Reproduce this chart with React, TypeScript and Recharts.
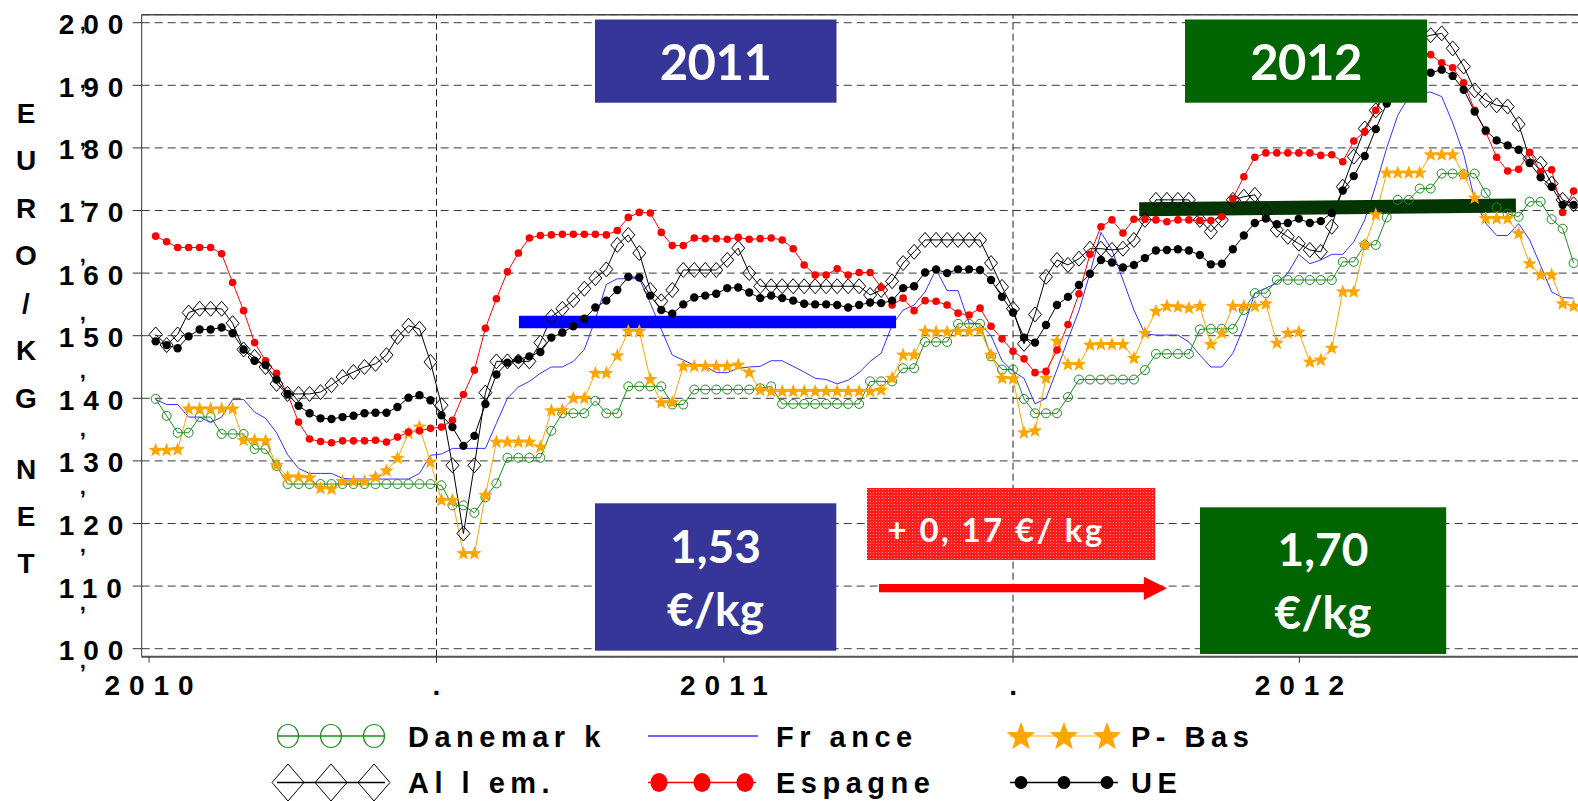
import React from "react";
import { CartesianGrid, Line, LineChart, ReferenceLine, XAxis, YAxis } from "recharts";

// weekly prices, EUR/kg, first week of 2010 onwards
const danemark = [
  1.399, 1.372, 1.345, 1.345, 1.37, 1.37, 1.343, 1.343, 1.343, 1.319,
  1.319, 1.292, 1.263, 1.263, 1.263, 1.263, 1.263, 1.263, 1.263, 1.263,
  1.263, 1.263, 1.263, 1.263, 1.263, 1.263, 1.261, 1.229, 1.229, 1.217,
  1.242, 1.264, 1.305, 1.305, 1.305, 1.305, 1.348, 1.376, 1.376, 1.376,
  1.396, 1.376, 1.376, 1.419, 1.419, 1.419, 1.419, 1.39, 1.39, 1.414,
  1.414, 1.414, 1.414, 1.414, 1.414, 1.416, 1.419, 1.391, 1.391, 1.391,
  1.391, 1.391, 1.391, 1.391, 1.391, 1.427, 1.427, 1.427, 1.448, 1.448,
  1.49, 1.49, 1.49, 1.519, 1.519, 1.519, 1.467, 1.446, 1.446, 1.399,
  1.376, 1.376, 1.376, 1.402, 1.43, 1.43, 1.43, 1.43, 1.43, 1.43,
  1.445, 1.471, 1.471, 1.471, 1.471, 1.51, 1.511, 1.511, 1.511, 1.541,
  1.568, 1.568, 1.589, 1.589, 1.589, 1.589, 1.589, 1.589, 1.618, 1.618,
  1.645, 1.645, 1.689, 1.717, 1.717, 1.735, 1.735, 1.759, 1.759, 1.758,
  1.759, 1.728, 1.705, 1.695, 1.69, 1.714, 1.714, 1.686, 1.671, 1.616,
];

const france = [
  1.398, 1.39, 1.39, 1.37, 1.37, 1.361, 1.37, 1.398, 1.398, 1.378,
  1.368, 1.345, 1.31, 1.288, 1.28, 1.28, 1.28, 1.272, 1.271, 1.271,
  1.271, 1.271, 1.271, 1.271, 1.28, 1.309, 1.311, 1.32, 1.32, 1.32,
  1.32, 1.36, 1.4, 1.418, 1.427, 1.44, 1.45, 1.45, 1.459, 1.478,
  1.526, 1.582, 1.591, 1.591, 1.591, 1.552, 1.51, 1.469, 1.461, 1.453,
  1.451, 1.441, 1.441, 1.448, 1.45, 1.451, 1.46, 1.46, 1.451, 1.442,
  1.432, 1.43, 1.423, 1.429, 1.441, 1.459, 1.472, 1.517, 1.541, 1.549,
  1.57, 1.606, 1.572, 1.572, 1.52, 1.519, 1.5, 1.46, 1.443, 1.432,
  1.391, 1.4, 1.446, 1.494, 1.54, 1.6, 1.665, 1.637, 1.589, 1.541,
  1.503, 1.501, 1.501, 1.501, 1.49, 1.469, 1.45, 1.45, 1.472, 1.514,
  1.568, 1.576, 1.584, 1.6, 1.63, 1.615, 1.621, 1.63, 1.63, 1.65,
  1.685, 1.74, 1.8, 1.852, 1.881, 1.889, 1.889, 1.882, 1.84, 1.79,
  1.717, 1.68, 1.66, 1.66, 1.679, 1.653, 1.612, 1.57, 1.561, 1.56,
];

const pBas = [
  1.317, 1.317, 1.318, 1.383, 1.383, 1.383, 1.383, 1.383, 1.333, 1.333,
  1.332, 1.293, 1.274, 1.274, 1.273, 1.256, 1.255, 1.267, 1.267, 1.267,
  1.274, 1.284, 1.304, 1.344, 1.354, 1.298, 1.237, 1.237, 1.152, 1.152,
  1.245, 1.33, 1.33, 1.33, 1.33, 1.322, 1.38, 1.381, 1.4, 1.4,
  1.44, 1.44, 1.468, 1.507, 1.507, 1.43, 1.393, 1.393, 1.451, 1.451,
  1.451, 1.451, 1.451, 1.453, 1.441, 1.413, 1.411, 1.411, 1.411, 1.411,
  1.411, 1.411, 1.411, 1.411, 1.411, 1.411, 1.413, 1.432, 1.469, 1.469,
  1.507, 1.506, 1.506, 1.507, 1.507, 1.509, 1.469, 1.432, 1.431, 1.345,
  1.348, 1.432, 1.491, 1.454, 1.454, 1.485, 1.486, 1.486, 1.486, 1.464,
  1.504, 1.539, 1.547, 1.546, 1.544, 1.547, 1.486, 1.504, 1.547, 1.547,
  1.547, 1.551, 1.488, 1.504, 1.506, 1.458, 1.461, 1.48, 1.57, 1.57,
  1.645, 1.693, 1.76, 1.76, 1.76, 1.76, 1.789, 1.789, 1.789, 1.757,
  1.72, 1.687, 1.687, 1.687, 1.663, 1.615, 1.597, 1.597, 1.551, 1.547,
];

const allem = [
  1.502, 1.485, 1.502, 1.537, 1.543, 1.543, 1.543, 1.52, 1.478, 1.466,
  1.45, 1.423, 1.407, 1.407, 1.407, 1.41, 1.421, 1.434, 1.442, 1.45,
  1.455, 1.469, 1.498, 1.516, 1.511, 1.458, 1.389, 1.293, 1.184, 1.293,
  1.409, 1.459, 1.459, 1.459, 1.459, 1.489, 1.53, 1.543, 1.557, 1.575,
  1.592, 1.606, 1.645, 1.661, 1.632, 1.573, 1.555, 1.573, 1.605, 1.605,
  1.605, 1.605, 1.621, 1.64, 1.6, 1.579, 1.579, 1.579, 1.579, 1.579,
  1.579, 1.579, 1.579, 1.579, 1.579, 1.565, 1.573, 1.587, 1.616, 1.634,
  1.653, 1.653, 1.653, 1.653, 1.653, 1.653, 1.616, 1.578, 1.543, 1.487,
  1.534, 1.594, 1.621, 1.613, 1.623, 1.639, 1.639, 1.637, 1.639, 1.653,
  1.685, 1.717, 1.717, 1.717, 1.717, 1.685, 1.666, 1.685, 1.717, 1.722,
  1.725, 1.698, 1.669, 1.658, 1.647, 1.637, 1.634, 1.674, 1.738, 1.786,
  1.831, 1.86, 1.9, 1.93, 1.96, 1.975, 1.98, 1.983, 1.959, 1.93,
  1.892, 1.876, 1.868, 1.866, 1.838, 1.783, 1.775, 1.743, 1.717, 1.71,
];

const espagne = [
  1.659, 1.65, 1.641, 1.641, 1.641, 1.641, 1.631, 1.585, 1.54, 1.489,
  1.46, 1.44, 1.407, 1.362, 1.335, 1.331, 1.329, 1.332, 1.332, 1.332,
  1.333, 1.33, 1.338, 1.346, 1.348, 1.352, 1.354, 1.365, 1.406, 1.445,
  1.512, 1.559, 1.602, 1.632, 1.656, 1.66, 1.661, 1.662, 1.662, 1.662,
  1.662, 1.661, 1.668, 1.689, 1.697, 1.696, 1.665, 1.644, 1.644, 1.656,
  1.655, 1.655, 1.654, 1.657, 1.654, 1.655, 1.656, 1.653, 1.639, 1.613,
  1.597, 1.597, 1.607, 1.597, 1.601, 1.601, 1.577, 1.549, 1.56, 1.54,
  1.556, 1.555, 1.549, 1.536, 1.533, 1.544, 1.515, 1.495, 1.475, 1.463,
  1.441, 1.443, 1.477, 1.518, 1.567, 1.63, 1.674, 1.685, 1.664, 1.686,
  1.686, 1.685, 1.682, 1.685, 1.685, 1.684, 1.684, 1.69, 1.719, 1.754,
  1.785, 1.792, 1.792, 1.792, 1.792, 1.792, 1.788, 1.789, 1.778, 1.811,
  1.826, 1.86, 1.889, 1.915, 1.94, 1.955, 1.949, 1.936, 1.928, 1.904,
  1.86, 1.826, 1.785, 1.763, 1.766, 1.793, 1.762, 1.765, 1.697, 1.731,
];

const ue = [
  1.491, 1.485, 1.48, 1.499, 1.51, 1.51, 1.513, 1.504, 1.478, 1.46,
  1.453, 1.43, 1.407, 1.388, 1.376, 1.368, 1.367, 1.37, 1.372, 1.376,
  1.377, 1.377, 1.386, 1.401, 1.405, 1.397, 1.373, 1.354, 1.324, 1.34,
  1.391, 1.438, 1.457, 1.462, 1.467, 1.474, 1.497, 1.505, 1.515, 1.527,
  1.545, 1.556, 1.573, 1.594, 1.593, 1.564, 1.541, 1.535, 1.55, 1.561,
  1.564, 1.567, 1.576, 1.577, 1.569, 1.56, 1.564, 1.56, 1.556, 1.551,
  1.55, 1.55, 1.549, 1.545, 1.549, 1.553, 1.552, 1.556, 1.576, 1.579,
  1.601, 1.606, 1.6, 1.606, 1.606, 1.605, 1.589, 1.562, 1.537, 1.497,
  1.489, 1.517, 1.549, 1.562, 1.581, 1.599, 1.621, 1.617, 1.609, 1.613,
  1.624, 1.636, 1.637, 1.638, 1.636, 1.629, 1.614, 1.615, 1.638, 1.66,
  1.68, 1.687, 1.678, 1.68, 1.687, 1.68, 1.683, 1.696, 1.732, 1.755,
  1.787, 1.83, 1.871, 1.895, 1.91, 1.918, 1.92, 1.925, 1.915, 1.893,
  1.858, 1.828, 1.812, 1.804, 1.797, 1.776, 1.753, 1.738, 1.709, 1.709,
];

// x axis: week index, ticks at 1 Jan / 1 Jul
const xTickWeeks = [-0.6, 25.55, 51.7, 78.0, 104.05];
const xTickLabels = ["2010", ".", "2011", ".", "2012"];
const midYearWeeks = [25.55, 78.0];
const yTicks = [1.0, 1.1, 1.2, 1.3, 1.4, 1.5, 1.6, 1.7, 1.8, 1.9, 2.0];

// yearly averages drawn as thick bars
const avg2011 = [{ x: 33.05, y: 1.522 }, { x: 67.36, y: 1.522 }];
const avg2012 = [{ x: 89.48, y: 1.702 }, { x: 123.75, y: 1.708 }];

const X_DOMAIN: [number, number] = [-1.27, 129.4];
const Y_DOMAIN: [number, number] = [0.9872, 2.0128];

const AXIS_FONT = "'Liberation Sans', Arial, sans-serif";
const BOX_FONT = "Lato, 'Open Sans', sans-serif";

const rows = danemark.map((v, i) => ({
  week: i,
  danemark: v,
  france: france[i],
  pBas: pBas[i],
  allem: allem[i],
  espagne: espagne[i],
  ue: ue[i],
}));

function starPath(cx: number, cy: number, R: number) {
  const r = R * 0.42;
  let d = "";
  for (let k = 0; k < 10; k++) {
    const rad = k % 2 === 0 ? R : r;
    const a = -Math.PI / 2 + (k * Math.PI) / 5;
    d += `${k === 0 ? "M" : "L"}${cx + rad * Math.cos(a)},${cy + rad * Math.sin(a)}`;
  }
  return d + "Z";
}

const diamondPath = (cx: number, cy: number, w: number, h: number) =>
  `M${cx},${cy - h}L${cx + w},${cy}L${cx},${cy + h}L${cx - w},${cy}Z`;

const circleDot = (p: any) => (
  <circle key={`c${p.index}`} cx={p.cx} cy={p.cy} r={4.5} fill="none" stroke="#1e8c1e" strokeWidth={1} />
);
const starDot = (p: any) => (
  <path key={`s${p.index}`} d={starPath(p.cx, p.cy, 7.5)} fill="#ffa500" stroke="none" />
);
const diamondDot = (p: any) => (
  <path key={`d${p.index}`} d={diamondPath(p.cx, p.cy, 6.5, 7.5)} fill="none" stroke="#000" strokeWidth={1} />
);
const redDot = (p: any) => <circle key={`r${p.index}`} cx={p.cx} cy={p.cy} r={3.8} fill="#ff0000" />;
const blackDot = (p: any) => <circle key={`b${p.index}`} cx={p.cx} cy={p.cy} r={4.2} fill="#000" />;

function XTick(props: any) {
  const { x, y, payload } = props;
  const idx = xTickWeeks.indexOf(payload.value);
  return (
    <text
      x={x}
      y={y}
      dy={30}
      dx={4.5}
      textAnchor="middle"
      style={{ fontFamily: AXIS_FONT, fontWeight: 700, fontSize: 28, letterSpacing: 9 }}
      fill="#000"
    >
      {xTickLabels[idx]}
    </text>
  );
}

function YTick(props: any) {
  const { x, y, payload } = props;
  const v: number = payload.value;
  const label = v.toFixed(2).replace(".", "");
  const commaY = y + 9 - (2 - v) * 46;
  return (
    <g style={{ fontFamily: AXIS_FONT, fontWeight: 700 }}>
      <text x={x - 74} y={y + 11.5} textAnchor="start" fontSize={28} style={{ letterSpacing: 9 }} fill="#000">
        {label}
      </text>
      <text x={x - 50} y={commaY - 1.5} textAnchor="middle" fontSize={22} fill="#000">
        ,
      </text>
      {v === 1.0 && (
        <text x={x - 50} y={y + 19.5} textAnchor="middle" fontSize={22} fill="#000">
          ,
        </text>
      )}
    </g>
  );
}

const titleTop = ["E", "U", "R", "O", "/", "K", "G"];
const titleBottom = ["N", "E", "T"];

const legendItems = [
  { name: "Danemar k", kind: "circle", row: 0, col: 0 },
  { name: "Fr ance", kind: "line", row: 0, col: 1 },
  { name: "P- Bas", kind: "star", row: 0, col: 2 },
  { name: "Al l em.", kind: "diamond", row: 1, col: 0 },
  { name: "Espagne", kind: "red", row: 1, col: 1 },
  { name: "UE", kind: "black", row: 1, col: 2 },
];
const legendMarkerX = [277, 648, 1010];
const legendTextX = [408, 776, 1131];
const legendRowY = [736, 782.5];

function LegendMarker({ kind, x0, cy }: { kind: string; x0: number; cy: number }) {
  const w = 108;
  const centers = [x0 + 11, x0 + 54, x0 + 97];
  if (kind === "line")
    return <line x1={x0} x2={x0 + 110} y1={cy} y2={cy} stroke="#3333ff" strokeWidth={1.5} />;
  const color =
    kind === "circle" ? "#1e8c1e" : kind === "star" ? "#ffa500" : kind === "red" ? "#ff0000" : "#000";
  return (
    <g>
      <line x1={x0} x2={x0 + w} y1={cy} y2={cy} stroke={color} strokeWidth={1.5} opacity={kind === "star" ? 0.6 : 1} />
      {centers.map((cx, k) => {
        if (kind === "circle")
          return <ellipse key={k} cx={cx} cy={cy} rx={10.5} ry={11.5} fill="none" stroke={color} strokeWidth={1.2} />;
        if (kind === "star") return <path key={k} d={starPath(cx, cy + 1, 15)} fill={color} />;
        if (kind === "diamond")
          return <path key={k} d={diamondPath(cx, cy, 16, 18.5)} fill="none" stroke="#000" strokeWidth={1} />;
        if (kind === "red") return <ellipse key={k} cx={cx} cy={cy} rx={8.5} ry={9.5} fill={color} />;
        return <circle key={k} cx={cx} cy={cy} r={6.5} fill={color} />;
      })}
    </g>
  );
}

function Overlay() {
  const boxText = { fontFamily: BOX_FONT, fontWeight: 700, fill: "#fff" } as const;
  return (
    <svg
      width={1578}
      height={801}
      style={{ position: "absolute", left: 0, top: 0, pointerEvents: "none" }}
    >
      <defs>
        <pattern id="redTex" width="3" height="3" patternUnits="userSpaceOnUse">
          <rect width="3" height="3" fill="#ff1e1e" />
          <rect width="1" height="1" fill="#ff8a8a" />
        </pattern>
      </defs>

      {/* vertical axis title */}
      <g style={{ fontFamily: AXIS_FONT, fontWeight: 700, fontSize: 28 }} fill="#000" textAnchor="middle">
        {titleTop.map((c, k) => (
          <text key={`t${k}`} x={26} y={112.5 + k * 47.5 + 10}>
            {c}
          </text>
        ))}
        {titleBottom.map((c, k) => (
          <text key={`b${k}`} x={26} y={468.5 + k * 47 + 10}>
            {c}
          </text>
        ))}
      </g>

      {/* year boxes */}
      <rect x={595} y={19.5} width={241.5} height={83.2} fill="#363698" />
      <text x={715.5} y={80} textAnchor="middle" fontSize={49} style={{ ...boxText, letterSpacing: -0.5 }}>
        2011
      </text>
      <rect x={1185} y={19.5} width={242} height={83.2} fill="#006400" />
      <text x={1306} y={80} textAnchor="middle" fontSize={49} style={{ ...boxText, letterSpacing: -0.5 }}>
        2012
      </text>

      {/* average boxes */}
      <rect x={595} y={503.3} width={241.3} height={147.4} fill="#363698" />
      <text x={715.5} y={563} textAnchor="middle" fontSize={46} style={boxText}>
        1,53
      </text>
      <text x={715.5} y={626} textAnchor="middle" fontSize={46} style={boxText}>
        €/kg
      </text>
      <rect x={1200} y={507.3} width={246.2} height={146.7} fill="#006400" />
      <text x={1323} y={566} textAnchor="middle" fontSize={46} style={boxText}>
        1,70
      </text>
      <text x={1323} y={629} textAnchor="middle" fontSize={46} style={boxText}>
        €/kg
      </text>

      {/* increase label and arrow */}
      <rect x={867} y={488} width={288.3} height={72} fill="url(#redTex)" />
      <text x={996} y={542} textAnchor="middle" fontSize={33} style={{ ...boxText, letterSpacing: 2.4 }}>
        + 0, 17 €/ kg
      </text>
      <rect x={879} y={584} width={266} height={8.3} fill="#ff0000" />
      <polygon points="1143.8,576.7 1167,588.2 1143.8,599.9" fill="#ff0000" />

      {/* legend */}
      {legendItems.map((it) => {
        const cy = legendRowY[it.row];
        return (
          <g key={it.name}>
            <LegendMarker kind={it.kind} x0={legendMarkerX[it.col]} cy={cy} />
            <text
              x={legendTextX[it.col]}
              y={cy + 10.5}
              style={{ fontFamily: AXIS_FONT, fontWeight: 700, fontSize: 29, letterSpacing: 5.5 }}
              fill="#000"
            >
              {it.name}
            </text>
          </g>
        );
      })}
    </svg>
  );
}

export default function App() {
  return (
    <div
      style={{
        position: "absolute",
        left: 0,
        top: 0,
        width: 1578,
        height: 801,
        overflow: "hidden",
        background: "#fff",
      }}
    >
      <LineChart width={1578} height={801} data={rows} margin={{ top: 14.7, right: 0, bottom: 0, left: 0 }}>
        <CartesianGrid horizontal vertical={false} stroke="#3a3a3a" strokeDasharray="8 5" />
        <XAxis
          type="number"
          dataKey="week"
          domain={X_DOMAIN}
          ticks={xTickWeeks}
          interval={0}
          allowDataOverflow
          height={144.3}
          tickSize={6}
          tick={XTick}
          axisLine={{ stroke: "#555", strokeWidth: 2 }}
          tickLine={{ stroke: "#333" }}
        />
        <YAxis
          type="number"
          domain={Y_DOMAIN}
          ticks={yTicks}
          interval={0}
          allowDataOverflow
          width={141.7}
          tickSize={9}
          tickMargin={0}
          tick={YTick}
          axisLine={{ stroke: "#333" }}
          tickLine={{ stroke: "#333" }}
        />
        <ReferenceLine y={Y_DOMAIN[1]} stroke="#444" strokeWidth={1.5} />
        {midYearWeeks.map((w) => (
          <ReferenceLine key={w} x={w} stroke="#222" strokeDasharray="7 4" />
        ))}

        <Line dataKey="france" name="France" stroke="#3333ff" strokeWidth={1} dot={false} activeDot={false} isAnimationActive={false} />
        <Line dataKey="danemark" name="Danemark" stroke="#1e8c1e" strokeWidth={1} dot={circleDot} activeDot={false} isAnimationActive={false} />
        <Line dataKey="pBas" name="P-Bas" stroke="#ffa500" strokeWidth={1} dot={starDot} activeDot={false} isAnimationActive={false} />
        <Line dataKey="allem" name="Allem." stroke="#000" strokeWidth={1} dot={diamondDot} activeDot={false} isAnimationActive={false} />
        <Line dataKey="espagne" name="Espagne" stroke="#ff0000" strokeWidth={1} dot={redDot} activeDot={false} isAnimationActive={false} />
        <Line dataKey="ue" name="UE" stroke="#000" strokeWidth={1} dot={blackDot} activeDot={false} isAnimationActive={false} />

        <ReferenceLine segment={avg2011} stroke="#0000ff" strokeWidth={12.6} />
        <ReferenceLine segment={avg2012} stroke="#023502" strokeWidth={14} />
      </LineChart>
      <Overlay />
    </div>
  );
}
